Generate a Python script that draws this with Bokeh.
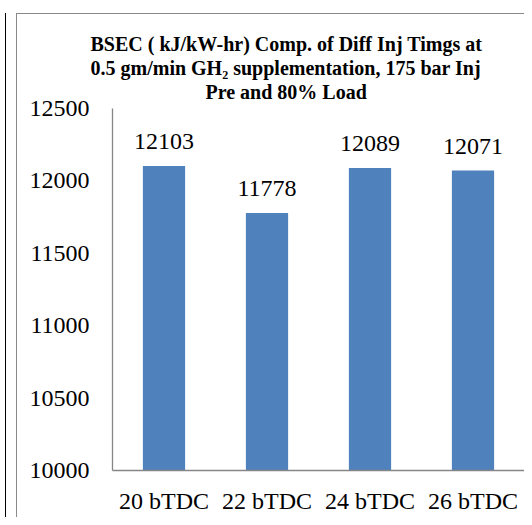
from bokeh.plotting import figure
from bokeh.models import FactorRange, Range1d, ColumnDataSource, FixedTicker, Title
from bokeh.core.properties import value
from bokeh.embed import file_html
from bokeh.resources import INLINE

categories = ["20 bTDC", "22 bTDC", "24 bTDC", "26 bTDC"]
bsec = [12103, 11778, 12089, 12071]
y_ticks = [10000, 10500, 11000, 11500, 12000, 12500]
title_lines = [
    "BSEC ( kJ/kW-hr)  Comp. of Diff Inj Timgs at",
    "0.5 gm/min GH\u2082 supplementation, 175 bar Inj",
    "Pre and 80% Load",
]

FONT = "Liberation Serif"
BAR = "#4F81BD"
AXIS = "#868686"

src = ColumnDataSource(dict(cat=categories, val=bsec, lab=[str(v) for v in bsec]))

p = figure(
    x_range=FactorRange(*categories),
    y_range=Range1d(y_ticks[0], y_ticks[-1]),
    frame_width=412, frame_height=362,
    min_border_left=95, min_border_right=0, min_border_top=94, min_border_bottom=47,
    output_backend="svg", toolbar_location=None,
)
p.outline_line_color = None
p.grid.grid_line_color = None

# chart-area border (grey, left/top) and the outer box edge (black) as CSS on the figure element
p.styles = {
    "margin-left": "16px",
    "margin-top": "13px",
    "border-left": "1px solid #8a8a8a",
    "border-top": "1px solid #8a8a8a",
    "box-shadow": "-10px 0 0 0 #ffffff, -11px 0 0 0 #000000",
}

p.vbar(x="cat", top="val", bottom=y_ticks[0], width=0.41, source=src, fill_color=BAR, line_color=None)
p.text(x="cat", y="val", text="lab", source=src, text_align="center", text_baseline="bottom",
       y_offset=-17, text_font=value(FONT), text_font_size="24px", text_color="black")

for ax in (p.xaxis[0], p.yaxis[0]):
    ax.axis_line_color = AXIS
    ax.axis_line_width = 1.3
    ax.major_tick_line_color = None
    ax.minor_tick_line_color = None
    ax.major_tick_out = 0
    ax.major_tick_in = 0
    ax.minor_tick_out = 0
    ax.major_label_text_font = FONT
    ax.major_label_text_font_size = "24px"
    ax.major_label_text_color = "black"

p.yaxis.ticker = FixedTicker(ticks=y_ticks)
p.yaxis.major_label_standoff = 23
p.xaxis.major_label_standoff = 17

# title: stacked outward from the plot frame (spacer first)
p.add_layout(Title(text=" ", text_font_size="1px", standoff=3), "above")
title_offsets = [-22, -22, 93]
for line, off in reversed(list(zip(title_lines, title_offsets))):
    p.add_layout(Title(text=line, align="left", offset=off, standoff=0,
                       text_font=FONT, text_font_style="bold", text_font_size="20px",
                       text_color="black"), "above")

open("out.html", "w").write(file_html(p, INLINE))
